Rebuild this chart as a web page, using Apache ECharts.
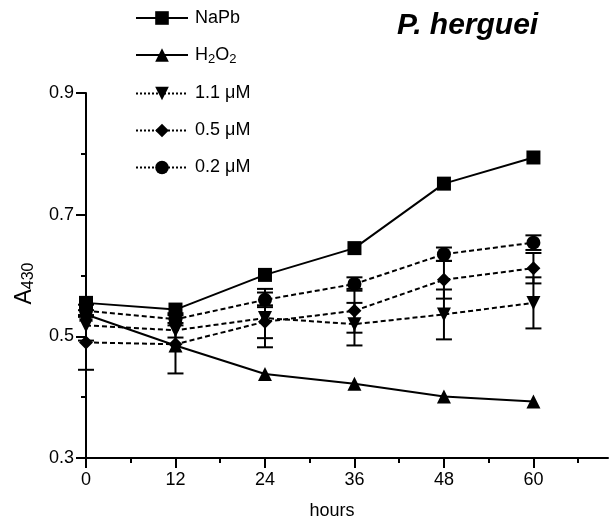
<!DOCTYPE html>
<html>
<head>
<meta charset="utf-8">
<script src="https://cdn.jsdelivr.net/npm/echarts@6/dist/echarts.min.js"></script>
<style>
html,body{margin:0;padding:0;background:#fff;}
#chart{width:612px;height:525px;}
</style>
</head>
<body>
<div id="chart"></div>
<script>
// ---- data ----
const hours = [0, 12, 24, 36, 48, 60];
const xTickLabels = [0, 12, 24, 36, 48, 60];
const xMinorTicks = [6, 18, 30, 42, 54, 66];
const yTickLabels = [0.3, 0.5, 0.7, 0.9];
const yMinorTicks = [0.4, 0.6, 0.8];

const seriesNames = ['NaPb', 'H2O2', '1.1 \u03bcM', '0.5 \u03bcM', '0.2 \u03bcM'];
const naPb   = [0.555, 0.544, 0.601, 0.645, 0.751, 0.794];
const h2o2   = [0.536, 0.485, 0.438, 0.422, 0.401, 0.393];
const um11   = [0.518, 0.510, 0.530, 0.520, 0.536, 0.555];
const um05   = [0.490, 0.487, 0.524, 0.542, 0.593, 0.612];
const um02   = [0.542, 0.528, 0.560, 0.586, 0.635, 0.654];
const um11Sd = [0.025, 0.012, 0.048, 0.035, 0.041, 0.042];
const um05Sd = [0.045, 0.048, 0.027, 0.036, 0.031, 0.025];
const um02Sd = [0.010, 0.010, 0.012, 0.011, 0.011, 0.012];

const FONT = 'Liberation Sans, Arial, sans-serif';
const pts = vals => hours.map((h, i) => [h, vals[i]]);
const errPts = (vals, sd) => hours.map((h, i) => [h, vals[i], sd[i]]);

function errRender(params, api) {
  const x = api.value(0), y = api.value(1), e = api.value(2);
  const t = api.coord([x, y + e]);
  const b = api.coord([x, y - e]);
  const w = 8;
  const st = { stroke: '#000', lineWidth: 2 };
  return {
    type: 'group',
    children: [
      { type: 'line', shape: { x1: t[0], y1: t[1], x2: b[0], y2: b[1] }, style: st },
      { type: 'line', shape: { x1: t[0] - w, y1: t[1], x2: t[0] + w, y2: t[1] }, style: st },
      { type: 'line', shape: { x1: b[0] - w, y1: b[1], x2: b[0] + w, y2: b[1] }, style: st }
    ]
  };
}

function lineSeries(name, vals, symbol, dashed, rotate) {
  return {
    name: name, type: 'line', data: pts(vals),
    symbol: symbol, symbolSize: 14, symbolRotate: rotate || 0,
    lineStyle: { color: '#000', width: 2, type: dashed ? [5, 3] : 'solid' },
    itemStyle: { color: '#000', borderWidth: 0 },
    z: 3, animation: false
  };
}
function errSeries(vals, sd) {
  return { type: 'custom', name: 'err', data: errPts(vals, sd), renderItem: errRender, z: 2, animation: false, silent: true };
}

const chart = echarts.init(document.getElementById('chart'), null, { renderer: 'canvas' });
chart.setOption({
  backgroundColor: '#fff',
  animation: false,
  textStyle: { fontFamily: FONT },
  title: {
    text: 'P. herguei', left: 392, top: 6,
    textStyle: { fontFamily: FONT, fontSize: 30, fontWeight: 'bold', fontStyle: 'italic', color: '#000' }
  },
  legend: {
    orient: 'vertical', left: 130, top: 4,
    itemWidth: 52, itemHeight: 17, itemGap: 19,
    textStyle: {
      fontFamily: FONT, fontSize: 18, color: '#000', padding: [0, 0, 0, 2],
      rich: { sub: { fontSize: 13, verticalAlign: 'bottom', padding: [8, 0, 0, 0], color: '#000', fontFamily: FONT } }
    },
    formatter: n => n === 'H2O2' ? 'H{sub|2}O{sub|2}' : n,
    data: [
      { name: seriesNames[0] },
      { name: seriesNames[1] },
      { name: seriesNames[2], lineStyle: { type: [2, 2] } },
      { name: seriesNames[3], lineStyle: { type: [2, 2] } },
      { name: seriesNames[4], lineStyle: { type: [2, 2] } }
    ]
  },
  grid: { left: 86, top: 93, right: 4, bottom: 62, containLabel: false },
  xAxis: [{
    type: 'value', min: 0, max: 70,
    name: 'hours', nameLocation: 'middle', nameGap: 44,
    nameTextStyle: { fontFamily: FONT, fontSize: 18, color: '#000', padding: [0, 30, 0, 0] },
    axisLine: { lineStyle: { color: '#000', width: 2 } },
    axisTick: { customValues: xTickLabels, length: 10, lineStyle: { color: '#000', width: 2 } },
    axisLabel: { customValues: xTickLabels, fontFamily: FONT, fontSize: 18, color: '#000', margin: 13 },
    splitLine: { show: false }
  }, {
    type: 'value', min: 0, max: 70, position: 'bottom',
    axisLine: { show: false },
    axisTick: { customValues: xMinorTicks, length: 5, lineStyle: { color: '#000', width: 2 } },
    axisLabel: { show: false },
    splitLine: { show: false }
  }],
  yAxis: [{
    type: 'value', min: 0.3, max: 0.9,
    name: 'A{sub|430}', nameLocation: 'middle', nameGap: 50, nameRotate: 90,
    nameTextStyle: {
      fontFamily: FONT, fontSize: 23, color: '#000', padding: [0, 16, 0, 0],
      rich: { sub: { fontSize: 16, fontFamily: FONT, color: '#000', padding: [0, 0, -8, 0] } }
    },
    axisLine: { show: true, lineStyle: { color: '#000', width: 2 } },
    axisTick: { show: true, customValues: yTickLabels, length: 10, lineStyle: { color: '#000', width: 2 } },
    axisLabel: { customValues: yTickLabels, fontFamily: FONT, fontSize: 18, color: '#000', margin: 12, formatter: v => v.toFixed(1) },
    splitLine: { show: false }
  }, {
    type: 'value', min: 0.3, max: 0.9, position: 'left',
    axisLine: { show: false },
    axisTick: { show: true, customValues: yMinorTicks, length: 5, lineStyle: { color: '#000', width: 2 } },
    axisLabel: { show: false },
    splitLine: { show: false }
  }],
  series: [
    errSeries(um11, um11Sd),
    errSeries(um05, um05Sd),
    errSeries(um02, um02Sd),
    lineSeries(seriesNames[0], naPb, 'rect', false),
    lineSeries(seriesNames[1], h2o2, 'triangle', false),
    lineSeries(seriesNames[2], um11, 'triangle', true, 180),
    lineSeries(seriesNames[3], um05, 'diamond', true),
    lineSeries(seriesNames[4], um02, 'circle', true)
  ]
});
</script>
</body>
</html>
